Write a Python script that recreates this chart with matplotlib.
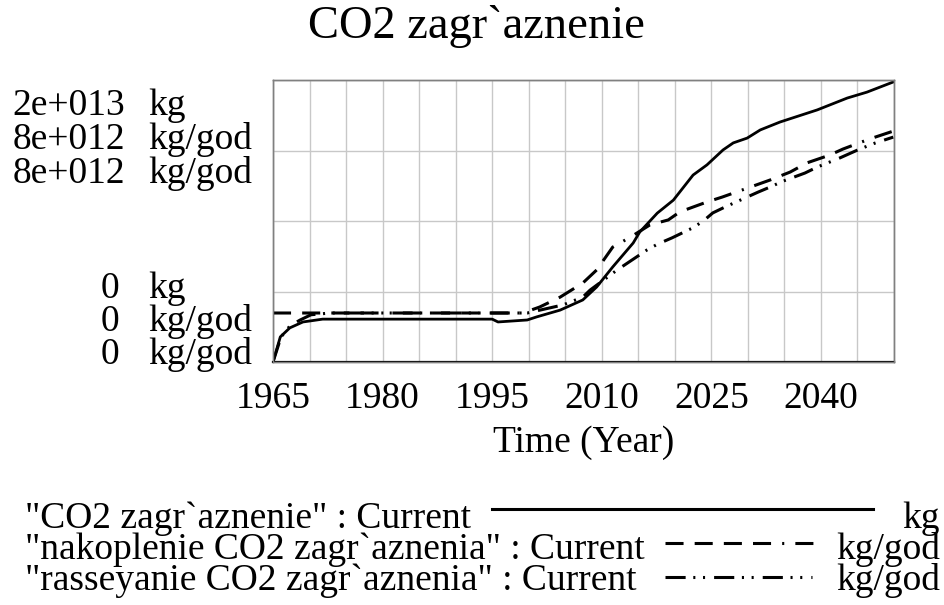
import matplotlib
matplotlib.use("Agg")
import matplotlib.pyplot as plt
import numpy as np

# Vensim style chart: three series, each on its own y scale
plt.rcParams['font.family'] = ['Liberation Serif', 'DejaVu Serif']
plt.rcParams['lines.scale_dashes'] = False

years_stock = [1965.0, 1966.0, 1967.3, 1969.1, 1971.8, 1995.0, 1995.8, 1999.8, 2001.1,
               2004.3, 2007.4, 2009.3, 2011.5, 2014.3, 2015.2, 2017.6, 2019.8, 2022.5,
               2024.4, 2026.6, 2028.0, 2029.9, 2031.7, 2034.4, 2039.5, 2043.6, 2046.3, 2049.9]
stock = [0, 1.78, 2.42, 2.84, 3.04, 3.04, 2.84, 2.98, 3.2,
         3.68, 4.4, 5.32, 6.74, 8.44, 9.22, 10.56, 11.48, 13.26,
         13.98, 15.04, 15.54, 15.88, 16.46, 17.02, 17.88, 18.72, 19.14, 19.86]   # 1e12 kg

years_in = [1965.0, 1999.2, 2001.5, 2004.3, 2007.4, 2009.3, 2011.5, 2013.9, 2016.6,
            2019.1, 2020.7, 2024.4, 2026.5, 2030.3, 2033.0, 2035.8, 2038.1, 2041.2,
            2043.0, 2046.7, 2049.9]
inflow = [1.39, 1.39, 1.56, 1.84, 2.24, 2.61, 3.26, 3.54, 3.89,
          4.03, 4.26, 4.54, 4.68, 4.96, 5.16, 5.39, 5.65, 5.87,
          6.04, 6.33, 6.55]   # 1e12 kg/god

years_out = [1965.0, 1966.1, 1967.3, 1968.7, 1970.2, 1972.8, 1999.8, 2004.7, 2007.4,
             2008.4, 2012.1, 2016.2, 2017.7, 2019.6, 2022.4, 2023.9, 2025.2, 2026.9,
             2029.9, 2031.4, 2033.0, 2034.8, 2037.8, 2039.5, 2042.6, 2045.3, 2047.4, 2049.9]
outflow = [0, 0.71, 1.02, 1.19, 1.34, 1.39, 1.39, 1.62, 1.84,
           2.04, 2.61, 3.18, 3.35, 3.52, 3.80, 4.00, 4.23, 4.40,
           4.68, 4.82, 4.96, 5.13, 5.36, 5.53, 5.79, 6.04, 6.21, 6.38]   # 1e12 kg/god

x_labels = [1965, 1980, 1995, 2010, 2025, 2040]
top_labels = [("2e+013", "kg"), ("8e+012", "kg/god"), ("8e+012", "kg/god")]
bottom_labels = [("0", "kg"), ("0", "kg/god"), ("0", "kg/god")]
legend_names = ['"CO2 zagr`aznenie" : Current',
                '"nakoplenie CO2 zagr`aznenia" : Current',
                '"rasseyanie CO2 zagr`aznenia" : Current']
legend_units = ["kg", "kg/god", "kg/god"]

W, H = 944, 605
fig = plt.figure(figsize=(W / 100, H / 100), dpi=100)
L, R, T, B = 273, 894, 80, 362
ax = fig.add_axes([L / W, 1 - B / H, (R - L) / W, (B - T) / H])
ax2 = ax.twinx()

dash_in = (13, 8, 13, 8, 13, 8, 13, 8, 1.5, 8)
dash_out = (14.5, 5.5, 1.5, 5.5, 1.5, 6.5)

ax.plot(years_stock, np.array(stock) * 1e12, color='black', lw=2, solid_joinstyle='round')
ax2.plot(years_in, np.array(inflow) * 1e12, color='black', lw=2.2, dashes=dash_in)
ax2.plot(years_out, np.array(outflow) * 1e12, color='black', lw=2.2, dashes=dash_out)

fs = 27
ax.set_xlim(1965, 2050)
ax.set_ylim(0, 2e13)
ax2.set_ylim(0, 8e12)
ax.set_xticks(x_labels)
ax.set_xticks(np.arange(1965, 2051, 5), minor=True)
ax.set_yticks(np.linspace(0, 2e13, 5))
ax.set_yticklabels([])
ax2.set_yticks([])
ax.grid(True, which='both', color='#c8c8c8', lw=1)
ax.set_axisbelow(True)
ax.tick_params(which='both', length=0, labelsize=fs, pad=14)
ax.set_xticklabels([str(v) for v in x_labels])
ax.set_xlabel("Time (Year)", fontsize=fs, labelpad=7)
for a in (ax, ax2):
    for s in a.spines.values():
        s.set_color('#808080')
        s.set_linewidth(1)
ax.spines['bottom'].set_color('black')
ax.spines['bottom'].set_linewidth(1.6)

# y scale labels
for i, (num, unit) in enumerate(top_labels):
    yb = 115 + 34 * i
    fig.text(125 / W, 1 - yb / H, num, ha='right', va='baseline', fontsize=fs)
    fig.text(148 / W, 1 - yb / H, unit, ha='left', va='baseline', fontsize=fs)
for i, (num, unit) in enumerate(bottom_labels):
    yb = 298 + 33 * i
    fig.text(119 / W, 1 - yb / H, num, ha='right', va='baseline', fontsize=fs)
    fig.text(148 / W, 1 - yb / H, unit, ha='left', va='baseline', fontsize=fs)

fig.text(476 / W, 1 - 38 / H, "CO2 zagr`aznenie", ha='center', va='baseline', fontsize=33.5)

# legend drawn Vensim style
styles = [dict(), dict(dashes=dash_in), dict(dashes=dash_out)]
starts = [492, 665, 665]
ends = [873, 815, 812]
line_y = [509, 543, 577]
for i in range(3):
    yb = 528 + 31 * i
    fig.text(25 / W, 1 - yb / H, legend_names[i], ha='left', va='baseline', fontsize=fs)
    fig.text(940 / W, 1 - yb / H, legend_units[i], ha='right', va='baseline', fontsize=fs)
    fig.add_artist(plt.Line2D([starts[i] / W, ends[i] / W], [1 - line_y[i] / H] * 2,
                              color='black', lw=2.2, **styles[i]))

fig.savefig("out.png", dpi=100)
